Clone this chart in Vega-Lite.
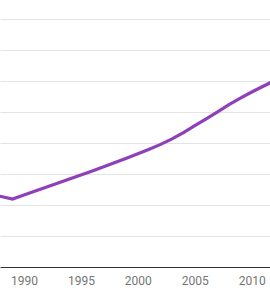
{
  "$schema": "https://vega.github.io/schema/vega-lite/v6.json",
  "width": 270,
  "height": 267,
  "autosize": {"type": "none"},
  "padding": {"left": 0, "top": 0, "right": 0, "bottom": 33},
  "background": "white",
  "config": {"view": {"stroke": null}},
  "data": {"values": [
    {"year": 1987, "value": 2.35},
    {"year": 1988, "value": 2.274},
    {"year": 1989, "value": 2.194},
    {"year": 1990, "value": 2.32},
    {"year": 1991, "value": 2.45},
    {"year": 1992, "value": 2.58},
    {"year": 1993, "value": 2.71},
    {"year": 1994, "value": 2.84},
    {"year": 1995, "value": 2.97},
    {"year": 1996, "value": 3.10},
    {"year": 1997, "value": 3.235},
    {"year": 1998, "value": 3.37},
    {"year": 1999, "value": 3.51},
    {"year": 2000, "value": 3.652},
    {"year": 2001, "value": 3.80},
    {"year": 2002, "value": 3.955},
    {"year": 2003, "value": 4.132},
    {"year": 2004, "value": 4.335},
    {"year": 2005, "value": 4.561},
    {"year": 2006, "value": 4.78},
    {"year": 2007, "value": 5.003},
    {"year": 2008, "value": 5.235},
    {"year": 2009, "value": 5.445},
    {"year": 2010, "value": 5.645},
    {"year": 2011, "value": 5.829},
    {"year": 2012, "value": 6.013}
  ]},
  "mark": {"type": "line", "color": "#8e3fb9", "strokeWidth": 3.2, "clip": true},
  "encoding": {
    "x": {
      "field": "year", "type": "quantitative",
      "scale": {"domain": [1987.9, 2011.6], "nice": false, "zero": false},
      "axis": {
        "values": [1990, 1995, 2000, 2005, 2010],
        "format": "d",
        "title": null,
        "grid": false,
        "ticks": false,
        "domainColor": "#333333",
        "domainWidth": 1.2,
        "labelFont": "Roboto",
        "labelFontSize": 12,
        "labelColor": "#757575",
        "labelPadding": 8,
        "labelFlush": false
      }
    },
    "y": {
      "field": "value", "type": "quantitative",
      "scale": {"domain": [0, 8.613], "nice": false, "zero": true},
      "axis": {
        "values": [1, 2, 3, 4, 5, 6, 7, 8],
        "title": null,
        "labels": false,
        "ticks": false,
        "domain": false,
        "grid": true,
        "gridColor": "#e4e4e4",
        "gridWidth": 1
      }
    }
  }
}
